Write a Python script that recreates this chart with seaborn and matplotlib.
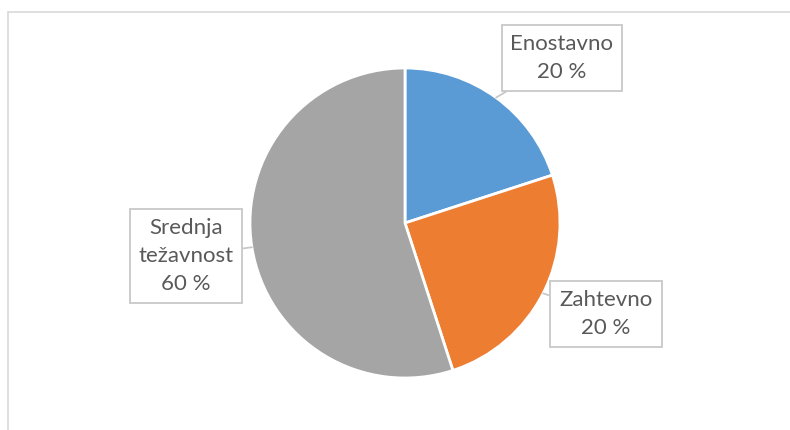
import numpy as np
import seaborn as sns
import matplotlib.pyplot as plt
from matplotlib.lines import Line2D

# Data
categories = ["Enostavno", "Zahtevno", "Srednja\ntežavnost"]
sliceSizes = [20, 25, 55]
percentLabels = ["20 %", "20 %", "60 %"]
sliceColors = ["#5B9BD5", "#ED7D31", "#A5A5A5"]

sns.set_theme(style="white")
plt.rcParams["font.family"] = ["Lato", "DejaVu Sans"]

fig = plt.figure(figsize=(7.9, 4.3), dpi=100)
ax = fig.add_axes([0, 0, 1, 1])

pieCenter = (405, 207)
pieRadius = 155
wedges, _ = ax.pie(sliceSizes, colors=sns.color_palette(sliceColors), startangle=90,
                   counterclock=False, center=pieCenter, radius=pieRadius, frame=True,
                   wedgeprops=dict(edgecolor="white", linewidth=2))
ax.set_xlim(0, 790)
ax.set_ylim(0, 430)
ax.set_aspect("equal")
ax.set_axis_off()

# label box positions (pixels, y up)
textPositions = [(562, 372), (606, 116), (186, 174)]

for wedge, name, pct, textPos in zip(wedges, categories, percentLabels, textPositions):
    midAngle = np.deg2rad((wedge.theta1 + wedge.theta2) / 2)
    anchor = (pieCenter[0] + pieRadius * np.cos(midAngle),
              pieCenter[1] + pieRadius * np.sin(midAngle))
    ax.annotate(f"{name}\n{pct}", xy=anchor, xytext=textPos,
                ha="center", va="center", fontsize=16, color="#595959",
                linespacing=1.5,
                bbox=dict(boxstyle="square,pad=0.4", fc="white", ec="#c8c8c8", lw=1.3),
                arrowprops=dict(arrowstyle="-", color="#c8c8c8", lw=1.3, shrinkA=0, shrinkB=0))

# chart frame (only left and top edges visible)
fig.add_artist(Line2D([7.5 / 790, 7.5 / 790], [0, 418.5 / 430], transform=fig.transFigure,
                      color="#d9d9d9", lw=1.2))
fig.add_artist(Line2D([7.5 / 790, 1], [418.5 / 430, 418.5 / 430], transform=fig.transFigure,
                      color="#d9d9d9", lw=1.2))

plt.savefig("out.png", dpi=100)
plt.close()
